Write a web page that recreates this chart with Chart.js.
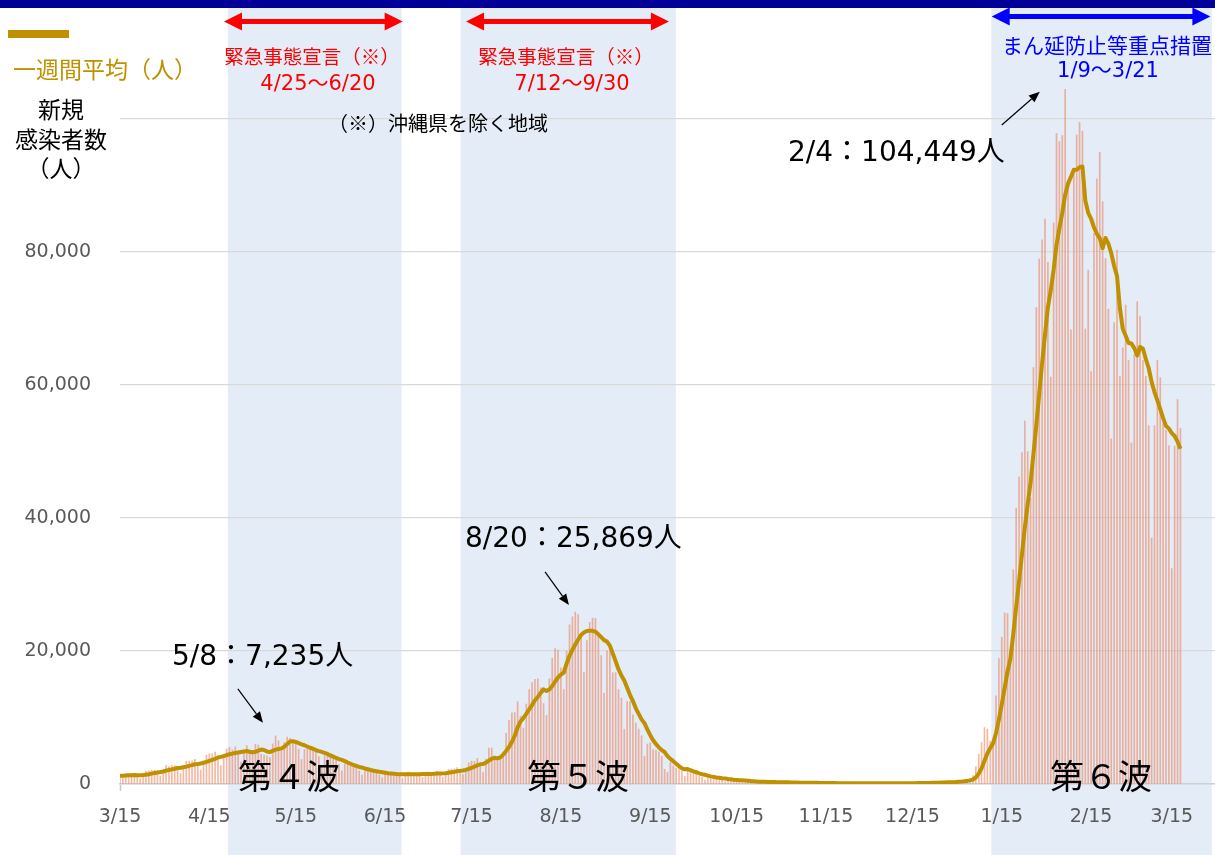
<!DOCTYPE html>
<html lang="ja">
<head>
<meta charset="utf-8">
<title>新規感染者数の推移</title>
<script src="https://cdn.jsdelivr.net/npm/chart.js@4.4.1/dist/chart.umd.min.js"></script>
<style>
  body { margin: 0; background: #fff; }
  #slide { position: relative; width: 1215px; height: 855px; overflow: hidden; background: #fff; }
  #chartBox { position: absolute; left: 0; top: 0; width: 1215px; height: 855px; }
  #topBar { position: absolute; left: 0; top: 0; width: 1215px; height: 8px; background: #000099; }
  #legendSwatch { position: absolute; left: 8px; top: 30px; width: 61px; height: 8px; background: #bf9000; }
  .t { position: absolute; white-space: nowrap; line-height: 1; color: #000; font-family: "Noto Sans CJK JP", sans-serif; }
  .c { transform: translate(-50%, -50%); }
  .l { transform: translateY(-50%); }
  .num { font-family: "DejaVu Sans", "Noto Sans CJK JP", sans-serif; }
  .red { color: #ff0000; }
  .blue { color: #0000ff; }
</style>
</head>
<body>
<div id="slide">
  <div id="chartBox"><canvas id="newCases"></canvas></div>
  <div id="topBar"></div>

  <div id="legendSwatch"></div>
  <div class="t l" style="left:13px;top:68px;font-size:23px;color:#bf9000">一週間平均（人）</div>
  <div class="t" style="left:61px;top:94px;font-size:23px;line-height:29.5px;text-align:center;transform:translateX(-50%)">新規<br>感染者数<br>（人）</div>

  <div class="t c red" style="left:312px;top:56px;font-size:19.5px">緊急事態宣言（※）</div>
  <div class="t c red num" style="left:318px;top:83px;font-size:21px">4/25～6/20</div>
  <div class="t c red" style="left:566px;top:56px;font-size:19.5px">緊急事態宣言（※）</div>
  <div class="t c red num" style="left:572px;top:83px;font-size:21px">7/12～9/30</div>
  <div class="t l" style="left:328px;top:123px;font-size:20px">（※）沖縄県を除く地域</div>
  <div class="t c blue" style="left:1107px;top:44px;font-size:21px">まん延防止等重点措置</div>
  <div class="t c blue num" style="left:1108px;top:70px;font-size:21px">1/9～3/21</div>

  <div class="t l num" style="left:172px;top:656px;font-size:28px">5/8：7,235人</div>
  <div class="t l num" style="left:465px;top:538px;font-size:28px">8/20：25,869人</div>
  <div class="t l num" style="left:788px;top:152px;font-size:28px">2/4：104,449人</div>

  <div class="t l" style="left:238px;top:775px;font-size:34px">第４波</div>
  <div class="t l" style="left:527px;top:775px;font-size:34px">第５波</div>
  <div class="t l" style="left:1050px;top:775px;font-size:34px">第６波</div>
</div>

<script>
  // first day on the axis is 2021-03-15, the axis runs to 2022-03-30
  const startDay = new Date(2021, 2, 15);
  const axisDays = 381;

  // daily new cases, one value per day from 3/15/2021
  const dailyCases = [
    // 2021-03 (from 3/15)
    1018, 1238, 1492, 1509, 1469, 1475, 1119, 816, 1519, 1916, 1985, 2065, 2082, 1786, 1205, 2102, 2843,
    // 2021-04
    2607, 2766, 2774, 2469, 1567, 2654, 3451, 3446, 3474, 3697, 2774, 2088, 3453, 4312, 4570, 4533, 4802, 4093, 2766, 4341,
    5292, 5499, 5120, 5606, 4605, 3314, 4843, 5791, 4675, 4681,
    // 2021-05
    5981, 5867, 4461, 4361, 4238, 3999, 6054, 7235, 6479, 4911, 6242, 7057, 6879, 6265, 6419, 5247, 3680, 5229, 5726, 5575,
    5251, 5040, 4119, 2794, 4290, 4570, 4118, 3874, 3614, 2967, 1983,
    // 2021-06
    2994, 3067, 2789, 2601, 2573, 1945, 1351, 2048, 2239, 1932, 1932, 1940, 1388, 938, 1453, 1710, 1738, 1630, 1605, 1308,
    905, 1426, 1784, 1666, 1584, 1612, 1400, 979, 1487, 1818,
    // 2021-07
    1748, 1770, 1913, 1416, 1024, 1731, 2191, 2246, 2265, 2461, 1903, 1398, 2383, 3187, 3436, 3417, 3874, 3090, 1703, 3758,
    5396, 5397, 4225, 3574, 3905, 4692, 7629, 9576, 10693, 10744, 12341,
    // 2021-08
    10168, 8392, 12017, 14207, 15263, 15753, 15823, 14472, 12075, 10316, 15812, 18889, 20366, 20151, 17477, 14217, 19986,
    23917, 25156, 25869, 25492, 22261, 16800, 21571, 24300, 24960, 24925, 22748, 19297, 13636, 20022,
    // 2021-09
    20030, 16731, 16751, 14187, 12929, 8230, 12396, 12393, 10391, 9153, 8253, 7225, 4170, 6000, 6179, 5133, 5098, 4845,
    4168, 2212, 1767, 3240, 2709, 2400, 2313, 1924, 1146, 1994, 1994, 1574,
    // 2021-10
    1442, 1128, 1000, 595, 1137, 1126, 1049, 802, 768, 609, 370, 606, 730, 616, 565, 512, 429, 232, 415, 388, 347, 338, 325,
    271, 154, 301, 345, 302, 269, 278, 256,
    // 2021-11
    86, 224, 257, 154, 224, 229, 162, 107, 164, 199, 196, 175, 166, 131, 78, 116, 140, 132, 133, 145, 100, 50, 110, 77, 113,
    120, 121, 106, 56, 85,
    // 2021-12
    128, 115, 127, 138, 113, 67, 116, 139, 145, 131, 140, 104, 88, 128, 172, 153, 168, 182, 147, 109, 179, 254, 276, 290,
    297, 240, 203, 299, 370, 401, 505,
    // 2022-01
    535, 553, 650, 783, 1265, 2638, 4475, 6214, 8480, 8249, 6438, 6377, 13244, 18859, 22045, 25742, 25630, 20223, 32197,
    41485, 46199, 49854, 54576, 50005, 43000, 62613, 71633, 78930, 81825, 84933, 78432,
    // 2022-02
    61200, 84400, 97800, 96600, 97500, 104449, 90000, 68300, 92000, 97600, 99500, 98200, 68400, 77300, 62000, 82800, 91000,
    95000, 87600, 79000, 71400, 51900, 69400, 80300, 61300, 65600, 72000, 63700,
    // 2022-03
    51300, 64600, 72500, 70300, 63700, 61300, 53900, 37000, 53900, 63700, 61100, 54200, 53200, 50900, 32400, 50800, 57800,
    53500
  ];

  // one-week average as drawn (gold line)
  const weeklyAverage = [
    // 2021-03 (from 3/15)
    1238, 1254, 1279, 1311, 1332, 1359, 1331, 1303, 1343, 1403, 1471, 1556, 1643, 1738, 1794, 1877, 2010,
    // 2021-04
    2099, 2199, 2298, 2395, 2447, 2526, 2613, 2732, 2834, 2965, 3009, 3083, 3198, 3321, 3481, 3632, 3790, 3979, 4076, 4202,
    4342, 4475, 4559, 4674, 4747, 4825, 4897, 4968, 4851, 4788,
    // 2021-05
    4841, 5022, 5186, 5117, 4895, 4798, 4994, 5174, 5261, 5325, 5594, 5997, 6408, 6438, 6322, 6146, 5970, 5825, 5635, 5449,
    5304, 5107, 4946, 4819, 4685, 4520, 4312, 4115, 3911, 3747, 3631,
    // 2021-06
    3446, 3231, 3041, 2859, 2711, 2565, 2474, 2339, 2221, 2098, 2003, 1912, 1833, 1774, 1689, 1613, 1586, 1542, 1495, 1483,
    1478, 1475, 1485, 1475, 1468, 1469, 1482, 1493, 1502, 1507,
    // 2021-07
    1518, 1545, 1588, 1590, 1597, 1631, 1685, 1756, 1827, 1905, 1974, 2028, 2121, 2263, 2433, 2598, 2800, 2969, 3013, 3209,
    3525, 3805, 3920, 3878, 3994, 4421, 4974, 5571, 6328, 7259, 8511,
    // 2021-08
    9406, 9935, 10562, 11223, 11876, 12592, 13089, 13704, 14230, 13987, 14216, 14734, 15393, 16012, 16441, 16747, 18128,
    19286, 20181, 20968, 21731, 22414, 22783, 23009, 23064, 23036, 22901, 22509, 22086, 21634, 21413,
    // 2021-09
    20803, 19627, 18459, 17236, 16327, 15554, 14465, 13374, 12468, 11383, 10535, 9720, 9140, 8226, 7339, 6588, 6008, 5521,
    5085, 4805, 4200, 3780, 3434, 3049, 2687, 2366, 2214, 2247, 2069, 1906,
    // 2021-10
    1770, 1600, 1468, 1390, 1267, 1143, 1068, 977, 925, 869, 837, 761, 705, 643, 609, 573, 547, 527, 500, 451, 413, 380, 353,
    331, 320, 303, 297, 291, 281, 274, 272,
    // 2021-11
    262, 251, 239, 218, 211, 204, 191, 194, 185, 177, 183, 176, 167, 163, 158, 152, 143, 134, 128, 125, 121, 117, 116, 107,
    104, 102, 99, 100, 100, 97,
    // 2021-12
    104, 104, 105, 108, 109, 110, 115, 116, 121, 121, 122, 120, 123, 125, 130, 131, 136, 142, 148, 151, 159, 170, 188, 205,
    222, 235, 248, 266, 282, 300, 331,
    // 2022-01
    365, 409, 473, 542, 670, 990, 1557, 2368, 3501, 4586, 5394, 6124, 7640, 9694, 11956, 14422, 16905, 18874, 22563, 26597,
    30503, 34476, 38595, 42077, 45331, 49676, 53983, 58659, 63226, 67563, 71624,
    // 2022-02
    74224, 77336, 81074, 83599, 85838, 88626, 90278, 91293, 92378, 92350, 92764, 92864, 87714, 85900, 85000, 83686, 82743,
    82100, 80586, 82100, 81257, 79814, 77900, 76371, 71557, 68414, 67414, 66314,
    // 2022-03
    66229, 65543, 64429, 65714, 65443, 63914, 62514, 60471, 58943, 57686, 56371, 55014, 53857, 53429, 52771, 52329, 51486,
    50400
  ];

  // y ticks
  const yTicks = [0, 20000, 40000, 60000, 80000, 100000];

  // shaded periods, in axis day units
  const shadeSpans = [[37.4, 97.7], [118.2, 192.9], [302.4, 378.9]];
  // header arrows: [from day, to day, colour, y px]
  const headerArrows = [
    [36.1, 98.1, '#ff0000', 21.5],
    [120.1, 190.5, '#ff0000', 21.5],
    [302.5, 378.4, '#0000ff', 16.5]
  ];
  // small call-out arrows: [day, value] -> [day, value]
  const calloutArrows = [
    [[40.9, 14300], [49.6, 9200]],
    [[147.5, 31900], [155.8, 26900]],
    [[306.0, 99100], [319.2, 104100]]
  ];

  const dayLabels = [];
  for (let i = 0; i < axisDays; i++) {
    const d = new Date(startDay.getFullYear(), startDay.getMonth(), startDay.getDate() + i);
    dayLabels.push((d.getMonth() + 1) + '/' + d.getDate());
  }
  const isMonthTick = (i) => dayLabels[i] !== undefined && dayLabels[i].endsWith('/15');

  const text_gray = '#595959';
  const grid_gray = '#d9d9d9';

  function drawDoubleArrow(ctx, x0, x1, y, color) {
    const head = 18, half = 9, thick = 5;
    ctx.fillStyle = color;
    ctx.fillRect(x0 + head - 1, y - thick / 2, x1 - x0 - 2 * head + 2, thick);
    ctx.beginPath();
    ctx.moveTo(x0, y); ctx.lineTo(x0 + head, y - half); ctx.lineTo(x0 + head, y + half);
    ctx.closePath(); ctx.fill();
    ctx.beginPath();
    ctx.moveTo(x1, y); ctx.lineTo(x1 - head, y - half); ctx.lineTo(x1 - head, y + half);
    ctx.closePath(); ctx.fill();
  }

  function drawPointer(ctx, x0, y0, x1, y1) {
    const ang = Math.atan2(y1 - y0, x1 - x0), len = 11, w = 4.5;
    const bx = x1 - len * Math.cos(ang), by = y1 - len * Math.sin(ang);
    ctx.strokeStyle = '#000'; ctx.fillStyle = '#000'; ctx.lineWidth = 1.2;
    ctx.beginPath(); ctx.moveTo(x0, y0); ctx.lineTo(bx, by); ctx.stroke();
    ctx.beginPath();
    ctx.moveTo(x1, y1);
    ctx.lineTo(bx + w * Math.sin(ang), by - w * Math.cos(ang));
    ctx.lineTo(bx - w * Math.sin(ang), by + w * Math.cos(ang));
    ctx.closePath(); ctx.fill();
  }

  // periods, arrows
  const slideMarks = {
    id: 'slideMarks',
    beforeDraw(chart) {
      const ctx = chart.ctx, xs = chart.scales.x;
      ctx.save();
      ctx.fillStyle = '#e3ecf7';
      shadeSpans.forEach(function (s) {
        const a = xs.getPixelForValue(s[0]), b = xs.getPixelForValue(s[1]);
        ctx.fillRect(a, 8, b - a, chart.height - 8);
      });
      ctx.restore();
    },
    afterDraw(chart) {
      const ctx = chart.ctx, xs = chart.scales.x, ys = chart.scales.y;
      ctx.save();
      headerArrows.forEach(function (a) {
        drawDoubleArrow(ctx, xs.getPixelForValue(a[0]), xs.getPixelForValue(a[1]), a[3], a[2]);
      });
      calloutArrows.forEach(function (a) {
        drawPointer(ctx, xs.getPixelForValue(a[0][0]), ys.getPixelForValue(a[0][1]),
          xs.getPixelForValue(a[1][0]), ys.getPixelForValue(a[1][1]));
      });
      ctx.restore();
    }
  };

  Chart.defaults.font.family = '"DejaVu Sans", "Noto Sans CJK JP", sans-serif';
  Chart.defaults.color = text_gray;

  new Chart(document.getElementById('newCases'), {
    type: 'bar',
    data: {
      labels: dayLabels,
      datasets: [{
        type: 'line',
        label: '一週間平均（人）',
        data: weeklyAverage,
        borderColor: '#bf9000',
        borderWidth: 4,
        borderJoinStyle: 'round',
        pointRadius: 0,
        tension: 0,
        order: 0
      }, {
        type: 'bar',
        label: '新規感染者数（人）',
        data: dailyCases,
        backgroundColor: 'rgba(236,125,85,0.55)',
        barThickness: 1,
        order: 1
      }]
    },
    options: {
      responsive: true,
      maintainAspectRatio: false,
      animation: false,
      devicePixelRatio: 1,
      layout: { padding: { top: 52.5, right: 0, bottom: 0, left: 0 } },
      plugins: {
        legend: { display: false },
        tooltip: { enabled: false }
      },
      scales: {
        x: {
          type: 'category',
          offset: false,
          grid: {
            display: true,
            offset: false,
            drawOnChartArea: false,
            drawTicks: true,
            tickLength: 7,
            tickWidth: 1.5,
            tickColor: (c) => isMonthTick(c.index) ? '#c8c8c8' : 'rgba(0,0,0,0)'
          },
          border: { display: true, color: '#d0d0d0', width: 1.5 },
          ticks: {
            autoSkip: false,
            maxRotation: 0,
            minRotation: 0,
            padding: 15,
            font: { size: 19 },
            callback: function (v, i) { return isMonthTick(i) ? dayLabels[i] : null; }
          },
          afterFit: function (s) { s.height = 71; }
        },
        y: {
          min: 0,
          max: 110000,
          afterBuildTicks: function (s) { s.ticks = yTicks.map(v => ({ value: v })); },
          grid: { color: grid_gray, lineWidth: 1.3, drawTicks: false },
          border: { display: false },
          ticks: {
            padding: 29,
            font: { size: 19 },
            callback: function (v) { return v === 100000 ? '' : v.toLocaleString('en-US'); }
          },
          afterFit: function (s) { s.width = 120; }
        }
      }
    },
    plugins: [slideMarks]
  });
</script>
</body>
</html>
